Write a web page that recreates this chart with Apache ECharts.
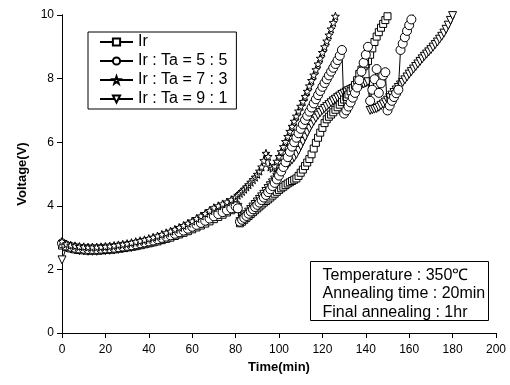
<!DOCTYPE html>
<html><head><meta charset="utf-8">
<script src="https://cdn.jsdelivr.net/npm/echarts@6/dist/echarts.min.js"></script>
<style>html,body{margin:0;padding:0;background:#fff}#c{width:510px;height:385px}</style>
</head><body><div id="c"></div>
<script>
// Sampling: first 40 values every 2 min (0..78), then every 1 min from 80
const seriesNames = ['Ir', 'Ir : Ta = 5 : 5', 'Ir : Ta = 7 : 3', 'Ir : Ta = 9 : 1'];
const xTicks = [0, 20, 40, 60, 80, 100, 120, 140, 160, 180, 200];
const yTicks = [0, 2, 4, 6, 8, 10];
const noteLines = ['Temperature : 350\u2103', 'Annealing time : 20min', 'Final annealing : 1hr'];

const irEarly = [2.75,2.7,2.66,2.63,2.61,2.6,2.59,2.59,2.59,2.6,2.61,2.62,2.63,2.65,2.67,2.69,2.71,2.73,2.76,2.79,2.82,2.85,2.88,2.92,2.96,3.0,3.05,3.1,3.15,3.2,3.26,3.32,3.38,3.44,3.51,3.58,3.65,3.72,3.79,3.86];
const irLate = [3.95,3.9,3.45,3.5,3.56,3.62,3.68,3.74,3.8,3.86,3.92,3.98,4.04,4.1,4.15,4.2,4.26,4.32,4.38,4.44,4.5,4.55,4.6,4.65,4.7,4.74,4.78,4.82,4.86,4.94,5.04,5.14,5.25,5.36,5.47,5.62,5.8,5.98,6.14,6.3,6.45,6.6,6.72,6.8,6.87,6.94,7.02,7.1,7.18,7.26,7.34,7.42,7.5,7.6,7.7,7.8,7.95,8.15,8.28,8.38,8.45,8.55,8.75,8.95,9.15,9.32,9.46,9.6,9.72,9.84,9.96,10.08];

const t55Early = [2.82,2.75,2.71,2.68,2.66,2.65,2.64,2.64,2.64,2.65,2.66,2.67,2.68,2.7,2.72,2.74,2.76,2.79,2.82,2.85,2.88,2.91,2.95,2.99,3.03,3.07,3.12,3.17,3.22,3.28,3.34,3.4,3.46,3.53,3.6,3.67,3.74,3.8,3.86,3.92];
const t55Late = [3.98,3.92,3.5,3.56,3.62,3.68,3.75,3.82,3.89,3.96,4.03,4.1,4.18,4.26,4.34,4.43,4.52,4.62,4.72,4.83,4.95,5.08,5.22,5.37,5.53,5.7,5.86,6.0,6.14,6.28,6.42,6.56,6.7,6.83,6.96,7.09,7.22,7.35,7.48,7.61,7.74,7.86,7.98,8.1,8.22,8.34,8.46,8.58,8.72,8.9,6.9,7.0,7.12,7.25,7.4,7.55,7.72,7.95,8.22,8.5,8.75,9.0,7.3,7.65,7.98,8.3,7.55,7.85,8.1,8.2,7.0,7.15,7.3,7.42,7.54,7.65,8.9,9.1,9.3,9.5,9.68,9.86,10.05];

const t73Early = [2.88,2.8,2.76,2.74,2.72,2.71,2.7,2.7,2.7,2.71,2.72,2.73,2.75,2.77,2.79,2.81,2.84,2.87,2.9,2.93,2.97,3.01,3.05,3.1,3.15,3.2,3.26,3.32,3.38,3.45,3.52,3.6,3.68,3.76,3.85,3.94,4.0,4.06,4.12,4.19];
const t73Late = [4.27,4.33,4.39,4.45,4.52,4.59,4.66,4.74,4.82,4.9,4.99,5.09,5.22,5.42,5.65,5.55,5.22,5.18,5.25,5.4,5.55,5.7,5.86,6.02,6.18,6.34,6.5,6.66,6.82,6.98,7.13,7.28,7.44,7.6,7.77,7.94,8.11,8.28,8.46,8.64,8.82,9.0,9.18,9.37,9.56,9.76,9.96,10.16];

const t91Early = [2.3,2.68,2.64,2.61,2.59,2.58,2.57,2.57,2.57,2.58,2.59,2.6,2.61,2.63,2.65,2.67,2.69,2.72,2.75,2.78,2.81,2.84,2.88,2.92,2.96,3.0,3.05,3.1,3.16,3.22,3.28,3.34,3.41,3.48,3.55,3.62,3.7,3.78,3.86,3.93];
const t91Late = [4.0,3.95,3.5,3.57,3.64,3.72,3.8,3.88,3.96,4.04,4.12,4.2,4.28,4.36,4.45,4.54,4.63,4.72,4.81,4.9,4.99,5.07,5.15,5.23,5.3,5.37,5.44,5.52,5.62,5.74,5.88,6.02,6.16,6.3,6.43,6.55,6.66,6.76,6.85,6.93,7.0,7.06,7.12,7.18,7.24,7.3,7.35,7.4,7.45,7.5,7.54,7.58,7.62,7.65,7.68,7.71,7.74,7.77,7.8,7.83,7.86,7.9,7.0,7.02,7.04,7.06,7.1,7.15,7.2,7.26,7.32,7.4,7.48,7.56,7.64,7.72,7.8,7.88,7.96,8.05,8.14,8.22,8.3,8.38,8.46,8.54,8.62,8.7,8.77,8.84,8.91,8.99,9.07,9.15,9.24,9.33,9.43,9.55,9.68,9.83,9.98,10.12];

function pairs(early, late) {
  const out = [];
  early.forEach((v, i) => out.push([i * 2, v]));
  late.forEach((v, i) => out.push([80 + i, v]));
  return out;
}

const STAR = 'path://M0,-10 L2.35,-3.24 L9.51,-3.09 L3.8,1.24 L5.88,8.09 L0,4 L-5.88,8.09 L-3.8,1.24 L-9.51,-3.09 L-2.35,-3.24 Z';
const FONT = "'Liberation Sans', Arial, sans-serif";

function mkSeries(name, data, symbol, size, z, rotate) {
  return {
    name: name, type: 'line', data: data, symbol: symbol, symbolSize: size,
    symbolRotate: rotate || 0, z: z, clip: true, showAllSymbol: true,
    lineStyle: { color: '#000', width: 1 },
    itemStyle: { color: '#fff', borderColor: '#000', borderWidth: 1 },
    emphasis: { disabled: true }
  };
}

const chart = echarts.init(document.getElementById('c'), null, { renderer: 'canvas' });
chart.setOption({
  animation: false,
  backgroundColor: '#fff',
  grid: { left: 62, right: 14, top: 15, bottom: 52 },
  legend: {
    orient: 'vertical', left: 88, top: 32,
    data: seriesNames,
    borderColor: '#000', borderWidth: 1, borderRadius: 0,
    padding: [2, 9, 2, 11], itemGap: 3, itemWidth: 33, itemHeight: 9,
    textStyle: { fontSize: 16, fontFamily: FONT, color: '#000' },
    inactiveColor: '#000'
  },
  xAxis: [{
    type: 'value', min: 0, max: 200, interval: 20,
    name: 'Time(min)', nameLocation: 'middle', nameGap: 26,
    nameTextStyle: { fontSize: 13, fontWeight: 'bold', fontFamily: FONT, color: '#000' },
    axisLine: { lineStyle: { color: '#000', width: 1 } },
    axisTick: { show: true, inside: false, length: 5, lineStyle: { color: '#000' } },
    axisLabel: { fontSize: 12, fontFamily: FONT, color: '#000', margin: 11 },
    splitLine: { show: false }
  }, {
    type: 'value', min: 0, max: 200, interval: 20, position: 'top',
    axisLine: { lineStyle: { color: '#000', width: 1 } },
    axisTick: { show: true, inside: true, length: 4, lineStyle: { color: '#000' } },
    axisLabel: { show: false }, splitLine: { show: false }
  }],
  yAxis: [{
    type: 'value', min: 0, max: 10, interval: 2,
    name: 'Voltage(V)', nameLocation: 'middle', nameGap: 33, nameRotate: 90,
    nameTextStyle: { fontSize: 13, fontWeight: 'bold', fontFamily: FONT, color: '#000' },
    axisLine: { show: true, lineStyle: { color: '#000', width: 1 } },
    axisTick: { show: true, inside: false, length: 5, lineStyle: { color: '#000' } },
    axisLabel: { fontSize: 12, fontFamily: FONT, color: '#000', margin: 8 },
    splitLine: { show: false }
  }, {
    type: 'value', min: 0, max: 10, interval: 2, position: 'right',
    axisLine: { show: true, lineStyle: { color: '#000', width: 1 } },
    axisTick: { show: true, inside: true, length: 4, lineStyle: { color: '#000' } },
    axisLabel: { show: false }, splitLine: { show: false }
  }],
  series: [
    mkSeries(seriesNames[0], pairs(irEarly, irLate), 'rect', 7, 3),
    mkSeries(seriesNames[1], pairs(t55Early, t55Late), 'circle', 9, 4),
    mkSeries(seriesNames[2], pairs(t73Early, t73Late), STAR, 8, 5),
    mkSeries(seriesNames[3], pairs(t91Early, t91Late), 'triangle', 8, 2, 180)
  ],
  graphic: [{
    type: 'group', left: 310, top: 261,
    children: [
      { type: 'rect', shape: { x: 0, y: 0, width: 178, height: 59 },
        style: { fill: '#fff', stroke: '#000', lineWidth: 1 } },
      { type: 'text', x: 12, y: 14, style: { text: noteLines[0], font: '16px ' + FONT, fill: '#000', verticalAlign: 'middle' } },
      { type: 'text', x: 12, y: 32.5, style: { text: noteLines[1], font: '16px ' + FONT, fill: '#000', verticalAlign: 'middle' } },
      { type: 'text', x: 12, y: 51, style: { text: noteLines[2], font: '16px ' + FONT, fill: '#000', verticalAlign: 'middle' } }
    ]
  }]
});
</script>
</body></html>
